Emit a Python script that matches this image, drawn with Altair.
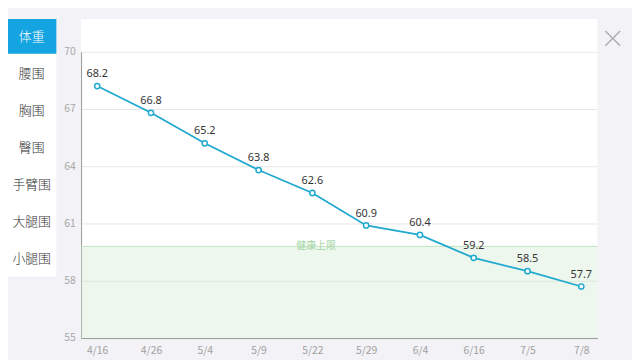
import altair as alt
import pandas as pd

dates = ["4/16", "4/26", "5/4", "5/9", "5/22", "5/29", "6/4", "6/16", "7/5", "7/8"]
weights = [68.2, 66.8, 65.2, 63.8, 62.6, 60.9, 60.4, 59.2, 58.5, 57.7]
menu_items = ["体重", "腰围", "胸围", "臀围", "手臂围", "大腿围", "小腿围"]
health_limit = 59.8
health_label = "健康上限"
y_ticks = [55, 58, 61, 64, 67, 70]
y_min, y_max = 55, 70

W, H = 523, 290
FONT = "Noto Sans CJK SC"
LINE = "#20a8cf"
BLUE = "#15a4e2"

df = pd.DataFrame({"date": dates, "weight": weights,
                   "label": [f"{w:.1f}" for w in weights]})
band = pd.DataFrame({"lo": [y_min], "hi": [health_limit], "lab": [health_label]})
one = pd.DataFrame({"a": [0]})

y_scale = alt.Scale(domain=[y_min, y_max], nice=False, zero=False)
x_enc = alt.X("date:N", sort=dates, scale=alt.Scale(type="point", padding=0.3),
              axis=alt.Axis(title=None, labelAngle=0, ticks=False, grid=False,
                            labelColor="#a0a0a0", labelFontSize=10.5, labelPadding=8,
                            domainColor="#9a9a9a", labelFont=FONT))
y_axis = alt.Axis(title=None, values=y_ticks, ticks=False, grid=True, gridColor="#e6e6e6",
                  labelColor="#a8a8a8", labelFontSize=10.5, labelPadding=6,
                  domainColor="#9a9a9a", labelFont=FONT)

layers = []
# white panel above plot
layers.append(alt.Chart(one).mark_rect(color="white").encode(
    x=alt.value(0), x2=alt.value(W), y=alt.value(-33), y2=alt.value(0)))
# sidebar
layers.append(alt.Chart(one).mark_rect(color="white").encode(
    x=alt.value(-74), x2=alt.value(-25), y=alt.value(-33), y2=alt.value(228)))
layers.append(alt.Chart(one).mark_rect(color=BLUE).encode(
    x=alt.value(-74), x2=alt.value(-25), y=alt.value(-33), y2=alt.value(2)))
for i, name in enumerate(menu_items):
    layers.append(alt.Chart(one).mark_text(
        text=name, font=FONT, fontSize=13, fontWeight=300,
        color="white" if i == 0 else "#333333", baseline="middle").encode(
        x=alt.value(-50), y=alt.value(-15 + i * 37.5)))

# healthy band
layers.append(alt.Chart(band).mark_rect(color="#d2ebd2", opacity=0.4).encode(
    x=alt.value(0), x2=alt.value(W),
    y=alt.Y("lo:Q", scale=y_scale, axis=y_axis), y2="hi:Q"))
layers.append(alt.Chart(band).mark_rule(color="#bfe3bf", strokeWidth=1).encode(
    x=alt.value(0), x2=alt.value(W), y=alt.Y("hi:Q", scale=y_scale)))
layers.append(alt.Chart(band).mark_text(color="#a3d6a3", font=FONT, fontSize=10,
                                        baseline="middle").encode(
    x=alt.value(238), y=alt.Y("hi:Q", scale=y_scale), text="lab:N"))

base = alt.Chart(df).encode(x=x_enc, y=alt.Y("weight:Q", scale=y_scale, axis=y_axis))
layers.append(base.mark_line(color=LINE, strokeWidth=1.8))
layers.append(base.mark_point(shape="circle", size=28, filled=True, fill="white",
                              stroke=LINE, strokeWidth=1.5, opacity=1))
layers.append(base.mark_text(dy=-12, fontSize=11, color="#333333", font="Noto Sans").encode(
    text="label:N"))

# close button
layers.append(alt.Chart(one).mark_rule(color="#b0b0b0", strokeWidth=1.6).encode(
    x=alt.value(531), x2=alt.value(546), y=alt.value(-21), y2=alt.value(-6)))
layers.append(alt.Chart(one).mark_rule(color="#b0b0b0", strokeWidth=1.6).encode(
    x=alt.value(546), x2=alt.value(531), y=alt.value(-21), y2=alt.value(-6)))

chart = alt.layer(*layers).properties(
    width=W, height=H,
    autosize=alt.AutoSizeParams(type="none"),
    padding={"left": 74, "top": 42, "right": 35, "bottom": 20},
    background="#f3f2f6",
).configure_view(fill="white", stroke=None)

chart.save("out.html", embed_options={"renderer": "svg", "actions": False})
